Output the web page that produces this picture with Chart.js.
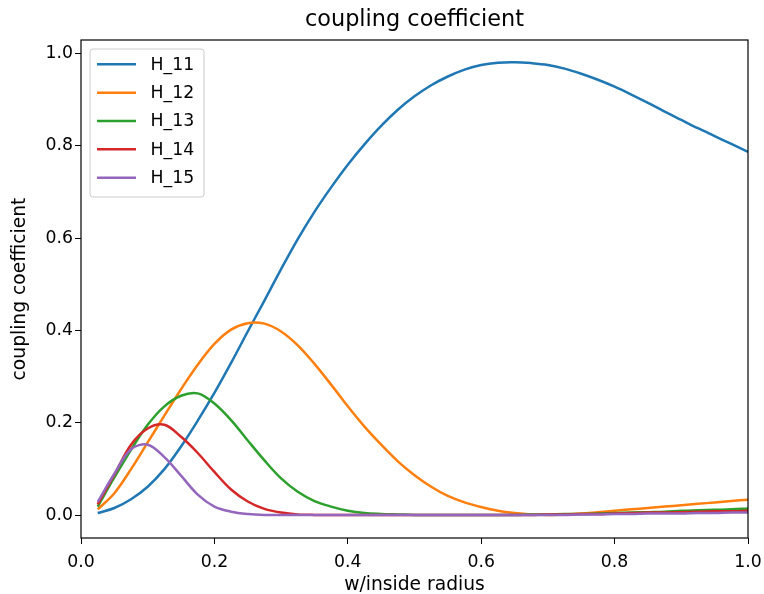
<!DOCTYPE html>
<html>
<head>
<meta charset="utf-8">
<script src="https://cdn.jsdelivr.net/npm/chart.js@4"></script>
<style>
  body { margin: 0; background: #fff; }
  #wrap { width: 764px; height: 594px; }
</style>
</head>
<body>
<div id="wrap"><canvas id="grafico" width="764" height="594"></canvas></div>
<script>
// w/inside radius
const xs = [0.025, 0.05, 0.075, 0.1, 0.125, 0.15, 0.175, 0.2, 0.225, 0.25,
            0.275, 0.3, 0.325, 0.35, 0.375, 0.4, 0.425, 0.45, 0.475, 0.5,
            0.525, 0.55, 0.575, 0.6, 0.625, 0.65, 0.675, 0.7, 0.725, 0.75,
            0.775, 0.8, 0.825, 0.85, 0.875, 0.9, 0.925, 0.95, 0.975, 1.0];

const nombres = ['H_11', 'H_12', 'H_13', 'H_14', 'H_15'];
const colores = ['#1f77b4', '#ff7f0e', '#2ca02c', '#d62728', '#9467bd'];

const h11 = [0.005, 0.016, 0.035, 0.062, 0.100, 0.149, 0.205, 0.265, 0.330, 0.398,
             0.465, 0.533, 0.598, 0.657, 0.710, 0.759, 0.803, 0.843, 0.878, 0.907,
             0.931, 0.950, 0.965, 0.975, 0.980, 0.981, 0.979, 0.975, 0.967, 0.956,
             0.943, 0.928, 0.911, 0.893, 0.874, 0.856, 0.838, 0.821, 0.804, 0.787];

const h12 = [0.013, 0.048, 0.100, 0.158, 0.216, 0.273, 0.326, 0.371, 0.402, 0.416,
             0.415, 0.398, 0.368, 0.328, 0.283, 0.236, 0.192, 0.153, 0.117, 0.087,
             0.062, 0.042, 0.028, 0.018, 0.010, 0.005, 0.002, 0.001, 0.002, 0.004,
             0.007, 0.010, 0.013, 0.016, 0.019, 0.022, 0.025, 0.028, 0.031, 0.034];

const h13 = [0.019, 0.082, 0.142, 0.196, 0.236, 0.259, 0.264, 0.242, 0.206, 0.162,
             0.119, 0.080, 0.051, 0.031, 0.019, 0.010, 0.005, 0.003, 0.002, 0.001,
             0.001, 0.001, 0.001, 0.001, 0.001, 0.001, 0.002, 0.002, 0.003, 0.003,
             0.004, 0.005, 0.006, 0.007, 0.008, 0.010, 0.011, 0.012, 0.013, 0.015];

const h14 = [0.024, 0.088, 0.153, 0.188, 0.196, 0.170, 0.135, 0.094, 0.056, 0.030,
             0.014, 0.006, 0.002, 0.001, 0.001, 0.001, 0.001, 0.001, 0.001, 0.001,
             0.001, 0.001, 0.001, 0.001, 0.001, 0.001, 0.001, 0.002, 0.002, 0.003,
             0.003, 0.004, 0.005, 0.006, 0.006, 0.007, 0.008, 0.009, 0.009, 0.010];

const h15 = [0.029, 0.090, 0.143, 0.153, 0.126, 0.086, 0.045, 0.019, 0.008, 0.003,
             0.001, 0.001, 0.001, 0.001, 0.001, 0.001, 0.001, 0.001, 0.001, 0.001,
             0.001, 0.001, 0.001, 0.001, 0.001, 0.001, 0.001, 0.001, 0.001, 0.002,
             0.002, 0.003, 0.003, 0.004, 0.004, 0.004, 0.005, 0.005, 0.006, 0.006];

const series = [h11, h12, h13, h14, h15];

const xTicks = [0, 0.2, 0.4, 0.6, 0.8, 1.0];
const yTicks = [0, 0.2, 0.4, 0.6, 0.8, 1.0];

const titulo = 'coupling coefficient';
const fuente = 'DejaVu Sans';

// titulo centrado sobre el area de los ejes
const tituloEjes = {
  id: 'tituloEjes',
  afterDraw(chart) {
    const { ctx, chartArea: a } = chart;
    ctx.save();
    ctx.font = '22.4px "' + fuente + '"';
    ctx.fillStyle = '#000';
    ctx.textAlign = 'center';
    ctx.textBaseline = 'middle';
    ctx.fillText(titulo, (a.left + a.right) / 2, 20.5);
    ctx.restore();
  }
};

// marco completo de los ejes (los cuatro lados)
const marco = {
  id: 'marco',
  afterDatasetsDraw(chart) {
    const { ctx, chartArea: a } = chart;
    ctx.save();
    ctx.strokeStyle = '#000';
    ctx.lineWidth = 1.2;
    ctx.strokeRect(a.left, a.top, a.right - a.left, a.bottom - a.top);
    ctx.restore();
  }
};

// leyenda con caja, arriba a la izquierda dentro del grafico
const leyenda = {
  id: 'leyenda',
  afterDraw(chart) {
    const { ctx, chartArea: a } = chart;
    const x0 = a.left + 9, y0 = a.top + 9, w = 114, h = 148;
    ctx.save();
    ctx.beginPath();
    ctx.roundRect(x0, y0, w, h, 3);
    ctx.fillStyle = 'rgba(255,255,255,0.8)';
    ctx.fill();
    ctx.strokeStyle = '#cccccc';
    ctx.lineWidth = 1;
    ctx.stroke();
    ctx.font = '17.3px "' + fuente + '"';
    ctx.textBaseline = 'middle';
    ctx.fillStyle = '#000';
    chart.data.datasets.forEach((ds, i) => {
      const y = y0 + 15.3 + i * 28.35;
      ctx.beginPath();
      ctx.moveTo(x0 + 7, y);
      ctx.lineTo(x0 + 46, y);
      ctx.strokeStyle = ds.borderColor;
      ctx.lineWidth = 2.5;
      ctx.stroke();
      ctx.fillText(ds.label, x0 + 60.5, y + 1);
    });
    ctx.restore();
  }
};

const ctx = document.getElementById('grafico').getContext('2d');

new Chart(ctx, {
  type: 'line',
  data: {
    datasets: series.map((vals, i) => ({
      label: nombres[i],
      data: vals.map((v, k) => ({ x: xs[k], y: v })),
      borderColor: colores[i],
      backgroundColor: colores[i],
      borderWidth: 2.5,
      pointRadius: 0,
      tension: 0.35,
      fill: false,
      order: series.length - i
    }))
  },
  options: {
    responsive: false,
    animation: false,
    layout: { padding: { left: 0, right: 16, top: 40, bottom: 0 } },
    scales: {
      x: {
        type: 'linear',
        min: 0,
        max: 1,
        afterBuildTicks: s => { s.ticks = xTicks.map(v => ({ value: v })); },
        // sin margen extra por las etiquetas de los extremos
        afterFit: s => { s.height = 56; s.paddingLeft = 0; s.paddingRight = 0; },
        grid: { drawOnChartArea: false, drawTicks: true, tickLength: 6, color: '#000' },
        border: { display: false },
        ticks: {
          autoSkip: false,
          maxRotation: 0,
          padding: 8,
          color: '#000',
          font: { family: fuente, size: 17.3 },
          callback: v => v.toFixed(1)
        },
        title: {
          display: true,
          text: 'w/inside radius',
          color: '#000',
          font: { family: fuente, size: 18.7, lineHeight: 1 },
          padding: 0
        }
      },
      y: {
        min: -0.049,
        max: 1.029,
        afterBuildTicks: s => { s.ticks = yTicks.map(v => ({ value: v })); },
        afterFit: s => { s.width = 81; s.paddingTop = 0; s.paddingBottom = 0; },
        grid: { drawOnChartArea: false, drawTicks: true, tickLength: 6, color: '#000' },
        border: { display: false },
        ticks: {
          padding: 2,
          color: '#000',
          font: { family: fuente, size: 17.3 },
          callback: v => v.toFixed(1)
        },
        title: {
          display: true,
          text: 'coupling coefficient',
          color: '#000',
          font: { family: fuente, size: 18.7 },
          padding: { top: 9.3 }
        }
      }
    },
    plugins: {
      legend: { display: false },
      tooltip: { enabled: false },
      title: { display: false }
    }
  },
  plugins: [marco, leyenda, tituloEjes]
});
</script>
</body>
</html>
